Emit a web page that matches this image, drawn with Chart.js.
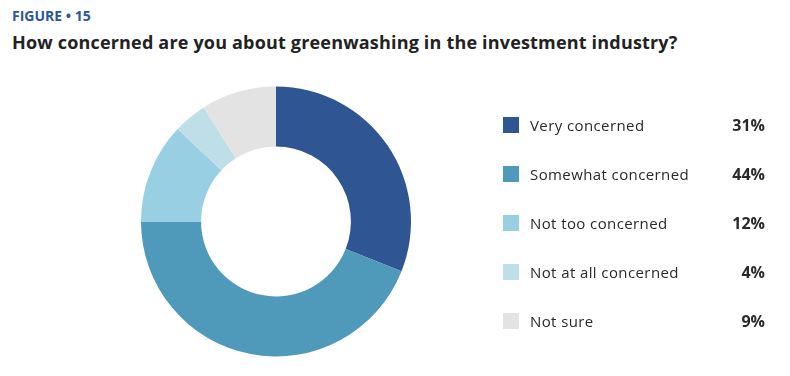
<!DOCTYPE html>
<html>
<head>
<meta charset="utf-8">
<script src="https://cdn.jsdelivr.net/npm/chart.js@4"></script>
<style>
  body { margin: 0; background: #fff; font-family: "Open Sans", sans-serif; }
  #wrap { position: relative; width: 790px; height: 376px; }
  #fig { position: absolute; left: 12px; top: 6px; font-size: 14px; font-weight: 700; color: #2c5796; }
  #title { position: absolute; left: 12px; top: 30px; font-size: 18px; font-weight: 700; color: #222; letter-spacing: 0.18px; }
  #legend { position: absolute; left: 503px; top: 0; width: 262px; }
  .row { position: absolute; left: 0; width: 262px; height: 20px; }
  .sw { position: absolute; left: 0; top: 2px; width: 16px; height: 16px; }
  .lab { position: absolute; left: 27px; top: 0; font-size: 15px; color: #2a2a2a; line-height: 20px; letter-spacing: 0.4px; }
  .pct { position: absolute; right: 0; top: 0; font-size: 16px; font-weight: 700; color: #2a2a2a; line-height: 20px; }
  canvas { position: absolute; left: 0; top: 0; }
</style>
</head>
<body>
<div id="wrap">
  <div id="fig">FIGURE • 15</div>
  <div id="title">How concerned are you about greenwashing in the investment industry?</div>
  <canvas id="chart" width="790" height="376"></canvas>
  <div id="legend"></div>
</div>
<script>
const labels = ['Very concerned', 'Somewhat concerned', 'Not too concerned', 'Not at all concerned', 'Not sure'];
const values = [31, 44, 12, 4, 9];
const colors = ['#2f5592', '#4f99ba', '#98cfe3', '#bfdfe8', '#e3e3e3'];

// legend built from the same arrays
const legend = document.getElementById('legend');
const rowTop = [115, 164, 213, 262, 311];
labels.forEach((lab, i) => {
  const row = document.createElement('div');
  row.className = 'row';
  row.style.top = rowTop[i] + 'px';
  row.innerHTML = '<div class="sw" style="background:' + colors[i] + '"></div>' +
    '<div class="lab">' + lab + '</div>' +
    '<div class="pct">' + values[i] + '%</div>';
  legend.appendChild(row);
});

const ctx = document.getElementById('chart').getContext('2d');
new Chart(ctx, {
  type: 'doughnut',
  data: {
    labels: labels,
    datasets: [{
      data: values,
      backgroundColor: colors,
      borderWidth: 0
    }]
  },
  options: {
    responsive: false,
    animation: false,
    cutout: '55.5%',
    layout: {
      padding: { left: 141, top: 86, right: 379, bottom: 19 }
    },
    plugins: {
      legend: { display: false },
      tooltip: { enabled: false }
    }
  }
});
</script>
</body>
</html>
